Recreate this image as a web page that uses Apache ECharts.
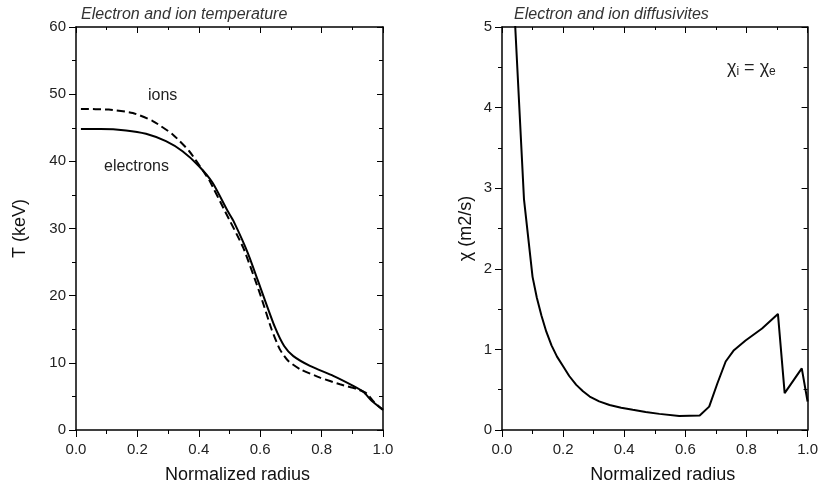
<!DOCTYPE html>
<html>
<head>
<meta charset="utf-8">
<script src="https://cdn.jsdelivr.net/npm/echarts@6/dist/echarts.min.js"></script>
<style>
  html, body { margin: 0; padding: 0; background: #fff; }
  #chart { width: 821px; height: 489px; }
</style>
</head>
<body>
<div id="chart"></div>
<script>
// left panel: temperature profiles (keV vs normalized radius)
const radiusE = [0.016, 0.08, 0.163, 0.228, 0.293, 0.347, 0.40, 0.445, 0.494, 0.512, 0.561, 0.61, 0.648, 0.678, 0.708, 0.762, 0.838, 0.903, 0.936, 0.963, 1.0];
const electronT = [44.8, 44.8, 44.6, 44.1, 43.0, 41.5, 39.3, 36.8, 32.6, 31.2, 26.2, 20.0, 15.3, 12.5, 11.0, 9.55, 8.07, 6.58, 5.7, 4.35, 3.0];
const radiusI = [0.016, 0.107, 0.185, 0.25, 0.315, 0.369, 0.418, 0.434, 0.485, 0.545, 0.60, 0.637, 0.664, 0.691, 0.73, 0.795, 0.86, 0.915, 0.948, 0.97, 1.0];
const ionT = [47.8, 47.7, 47.2, 46.0, 44.0, 41.5, 38.3, 37.2, 32.6, 27.1, 20.2, 15.0, 12.0, 10.3, 9.06, 7.8, 6.8, 6.1, 5.4, 4.2, 3.0];

// right panel: diffusivity chi_i = chi_e
const radiusChi = [0.038, 0.072, 0.1, 0.114, 0.129, 0.145, 0.162, 0.18, 0.2, 0.22, 0.243, 0.265, 0.287, 0.318, 0.352, 0.39, 0.428, 0.47, 0.515, 0.58, 0.647, 0.678, 0.705, 0.732, 0.759, 0.797, 0.851, 0.903, 0.925, 0.981, 1.0];
const chi = [5.4, 2.86, 1.9, 1.64, 1.42, 1.22, 1.05, 0.91, 0.79, 0.67, 0.56, 0.48, 0.415, 0.355, 0.31, 0.277, 0.25, 0.222, 0.20, 0.173, 0.18, 0.29, 0.58, 0.85, 0.99, 1.11, 1.26, 1.44, 0.457, 0.765, 0.354];

const font = "'Liberation Sans', Arial, sans-serif";
const pairs = (xs, ys) => xs.map((x, i) => [x, ys[i]]);

function xAxes(gridIndex) {
  const base = {
    type: 'value', gridIndex: gridIndex, min: 0, max: 1, interval: 0.2,
    splitLine: {show: false},
    axisLine: {show: true, onZero: false, lineStyle: {color: '#000', width: 1.5}},
    minorTick: {show: true, splitNumber: 2, length: 4, lineStyle: {color: '#000'}},
  };
  return [
    Object.assign({}, base, {
      position: 'bottom',
      axisTick: {inside: false, length: 7, lineStyle: {color: '#000', width: 1}},
      axisLabel: {color: '#222', fontFamily: font, fontSize: 15, margin: 12,
        formatter: v => v.toFixed(1)},
      name: 'Normalized radius', nameLocation: 'middle', nameGap: 36,
      nameTextStyle: {color: '#111', fontFamily: font, fontSize: 18, padding: [0, 0, 0, 16]},
    }),
    Object.assign({}, base, {
      position: 'top',
      axisTick: {inside: true, length: 6, lineStyle: {color: '#000'}},
      minorTick: {show: true, splitNumber: 2, length: 3, lineStyle: {color: '#000'}},
      axisLabel: {show: false},
    }),
  ];
}

function yAxes(gridIndex, max, interval, name, nameGap) {
  const base = {
    type: 'value', gridIndex: gridIndex, min: 0, max: max, interval: interval,
    splitLine: {show: false},
    axisLine: {show: true, onZero: false, lineStyle: {color: '#000', width: 1.5}},
    minorTick: {show: true, splitNumber: 2, length: 4, lineStyle: {color: '#000'}},
  };
  return [
    Object.assign({}, base, {
      position: 'left',
      axisTick: {inside: false, length: 7, lineStyle: {color: '#000'}},
      axisLabel: {color: '#222', fontFamily: font, fontSize: 15, margin: 10},
      name: name, nameLocation: 'middle', nameGap: nameGap,
      nameTextStyle: {color: '#111', fontFamily: font, fontSize: 18},
    }),
    Object.assign({}, base, {
      position: 'right',
      axisTick: {inside: true, length: 6, lineStyle: {color: '#000'}},
      axisLabel: {show: false},
    }),
  ];
}

const chart = echarts.init(document.getElementById('chart'));

const option = {
  backgroundColor: '#fff',
  animation: false,
  title: [
    {text: 'Electron and ion temperature', left: 76, top: 2,
      textStyle: {fontFamily: font, fontSize: 16, fontStyle: 'italic', fontWeight: 'normal', color: '#333'}},
    {text: 'Electron and ion diffusivites', left: 509, top: 2,
      textStyle: {fontFamily: font, fontSize: 16, fontStyle: 'italic', fontWeight: 'normal', color: '#333'}},
  ],
  grid: [
    {left: 76, right: 438, top: 27, bottom: 58},
    {left: 502, right: 12, top: 27, bottom: 57},
  ],
  xAxis: xAxes(0).concat(xAxes(1)),
  yAxis: yAxes(0, 60, 10, 'T (keV)', 47).concat(yAxes(1, 5, 1, 'χ (m2/s)', 27)),
  graphic: [
    {type: 'text', left: 148, top: 88,
      style: {text: 'ions', font: '16px ' + font, fill: '#222'}},
    {type: 'text', left: 104, top: 159,
      style: {text: 'electrons', font: '16px ' + font, fill: '#222'}},
    {type: 'text', left: 727, top: 59,
      style: {
        text: '{c|χ}{s|i}{c| = χ}{s|e}',
        rich: {
          c: {fontFamily: font, fontSize: 18, fill: '#222'},
          s: {fontFamily: font, fontSize: 12, fill: '#222', padding: [8, 0, 0, 0]},
        },
      }},
  ],
  series: [
    {name: 'electrons', type: 'line', xAxisIndex: 0, yAxisIndex: 0, showSymbol: false, smooth: 0.2,
      lineStyle: {color: '#000', width: 2}, data: pairs(radiusE, electronT)},
    {name: 'ions', type: 'line', xAxisIndex: 0, yAxisIndex: 0, showSymbol: false, smooth: 0.2,
      lineStyle: {color: '#000', width: 2, type: [8, 4]}, data: pairs(radiusI, ionT)},
    {name: 'chi', type: 'line', xAxisIndex: 2, yAxisIndex: 2, showSymbol: false, clip: true,
      lineStyle: {color: '#000', width: 2}, data: pairs(radiusChi, chi)},
  ],
};

chart.setOption(option);
</script>
</body>
</html>
